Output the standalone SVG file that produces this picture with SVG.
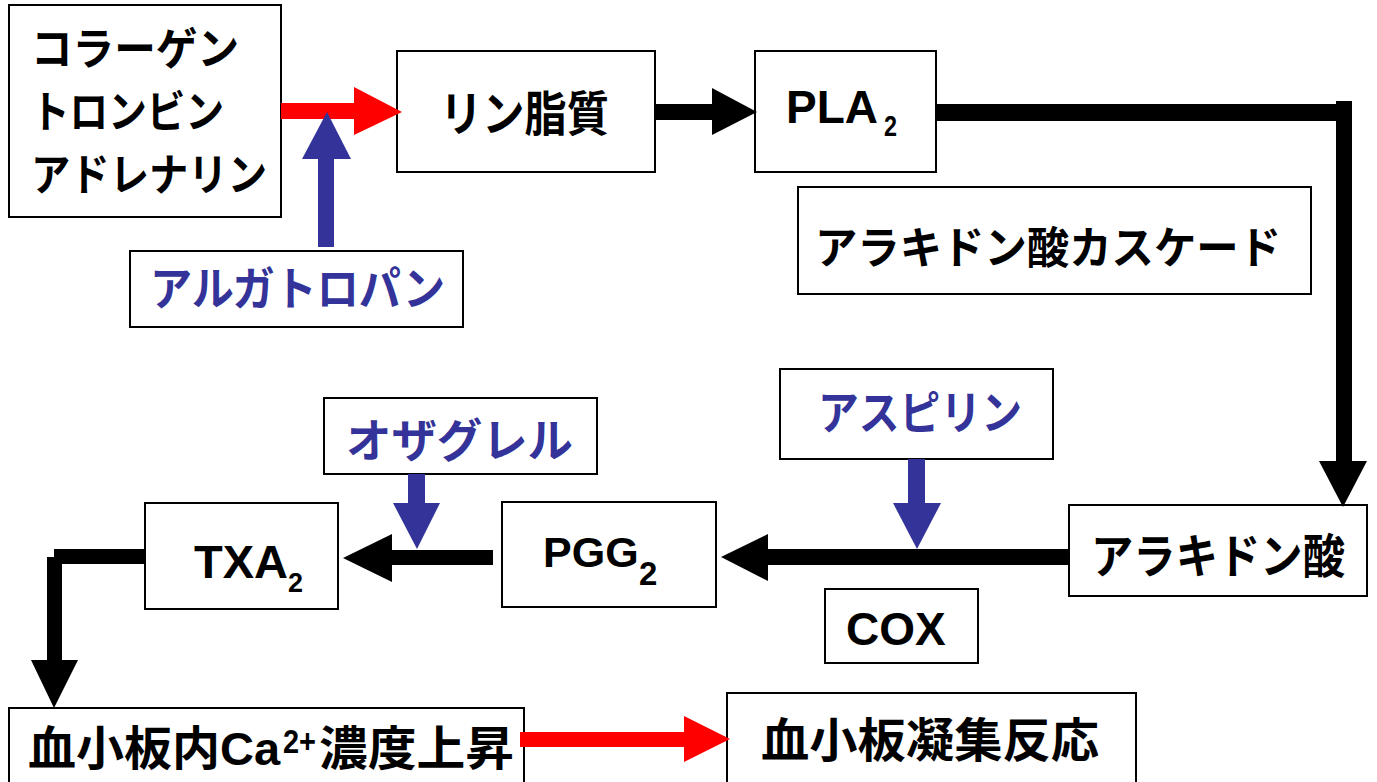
<svg xmlns="http://www.w3.org/2000/svg" width="1377" height="782" viewBox="0 0 1377 782">
<style>
.box{fill:#fff;stroke:#000;stroke-width:2}
.jp{font-family:"Noto Sans CJK JP","Liberation Sans",sans-serif;font-weight:bold;fill:#000}
.bl{fill:#333399}
.en{font-family:"Liberation Sans",Arial,sans-serif;font-weight:bold;fill:#000}
.k{fill:#000}
.r{fill:#ff0000}
.b{fill:#333399}
</style>
<rect width="1377" height="782" fill="#fff"/>
<g id="collagen">
<rect class="box" x="9" y="5" width="272" height="212"/>
<text class="jp" x="31" y="65" font-size="44" textLength="208" lengthAdjust="spacingAndGlyphs">コラーゲン</text>
<text class="jp" x="31" y="128" font-size="44" textLength="193" lengthAdjust="spacingAndGlyphs">トロンビン</text>
<text class="jp" x="31" y="191" font-size="44" textLength="236" lengthAdjust="spacingAndGlyphs">アドレナリン</text>
</g>
<g id="argatroban">
<rect class="box" x="130" y="251" width="333" height="76"/>
<text class="jp bl" x="150" y="305" font-size="46" textLength="295" lengthAdjust="spacingAndGlyphs">アルガトロパン</text>
</g>
<g id="phospholipid">
<rect class="box" x="397" y="51" width="258" height="121"/>
<text class="jp" x="440" y="131" font-size="48" textLength="169" lengthAdjust="spacingAndGlyphs">リン脂質</text>
</g>
<g id="pla2">
<rect class="box" x="755" y="51" width="181" height="121"/>
<text class="en" x="786" y="123" font-size="46">PLA</text>
<text class="en" x="884" y="136" font-size="29" textLength="13" lengthAdjust="spacingAndGlyphs">2</text>
</g>
<g id="cascade">
<rect class="box" x="798" y="187" width="513" height="107"/>
<text class="jp" x="815" y="264" font-size="44" textLength="466" lengthAdjust="spacingAndGlyphs">アラキドン酸カスケード</text>
</g>
<g id="aspirin">
<rect class="box" x="780" y="369" width="273" height="90"/>
<text class="jp bl" x="818" y="429" font-size="46" textLength="204" lengthAdjust="spacingAndGlyphs">アスピリン</text>
</g>
<g id="arachidonic">
<rect class="box" x="1069" y="505" width="298" height="91"/>
<text class="jp" x="1091" y="573" font-size="47" textLength="254" lengthAdjust="spacingAndGlyphs">アラキドン酸</text>
</g>
<g id="cox">
<rect class="box" x="825" y="589" width="153" height="74"/>
<text class="en" x="846" y="645" font-size="46">COX</text>
</g>
<g id="pgg2">
<rect class="box" x="502" y="502" width="214" height="105"/>
<text class="en" x="543" y="567" font-size="43">PGG</text>
<text class="en" x="639" y="585" font-size="33">2</text>
</g>
<g id="ozagrel">
<rect class="box" x="324" y="398" width="273" height="76"/>
<text class="jp bl" x="346" y="457" font-size="46" textLength="227" lengthAdjust="spacingAndGlyphs">オザグレル</text>
</g>
<g id="txa2">
<rect class="box" x="145" y="503" width="193" height="106"/>
<text class="en" x="194" y="578" font-size="47">TXA</text>
<text class="en" x="288" y="592" font-size="27">2</text>
</g>
<g id="calcium">
<rect class="box" x="9" y="708" width="515" height="90"/>
<text class="jp" x="28" y="765" font-size="47" textLength="192" lengthAdjust="spacingAndGlyphs">血小板内</text>
<text class="en" x="220" y="765" font-size="47">Ca</text>
<text class="en" x="283" y="753" font-size="34" textLength="33" lengthAdjust="spacingAndGlyphs">2+</text>
<text class="jp" x="319" y="765" font-size="47" textLength="195" lengthAdjust="spacingAndGlyphs">濃度上昇</text>
</g>
<g id="aggregation">
<rect class="box" x="727" y="693" width="409" height="100"/>
<text class="jp" x="761" y="757" font-size="47" textLength="338" lengthAdjust="spacingAndGlyphs">血小板凝集反応</text>
</g>
<g id="connectors">
<rect class="r" x="281" y="103" width="75" height="16"/>
<polygon class="r" points="354,87 402,112 354,135"/>
<rect class="b" x="318" y="158" width="16" height="89"/>
<polygon class="b" points="302,159 351,159 327,112"/>
<rect class="k" x="655" y="104" width="59" height="16"/>
<polygon class="k" points="712,88 757,112 712,135"/>
<rect class="k" x="936" y="104" width="416" height="17"/>
<rect class="k" x="1336" y="101" width="16" height="362"/>
<polygon class="k" points="1319,461 1367,461 1343,507"/>
<rect class="b" x="908" y="459" width="17" height="46"/>
<polygon class="b" points="893,503 941,503 917,549"/>
<rect class="k" x="766" y="549" width="303" height="16"/>
<polygon class="k" points="768,534 768,581 721,557"/>
<rect class="k" x="390" y="550" width="103" height="15"/>
<polygon class="k" points="392,534 392,582 343,558"/>
<rect class="b" x="408" y="474" width="17" height="31"/>
<polygon class="b" points="393,503 440,503 417,549"/>
<rect class="k" x="54" y="549" width="91" height="15"/>
<rect class="k" x="47" y="557" width="15" height="105"/>
<polygon class="k" points="31,660 78,660 54,708"/>
<rect class="r" x="520" y="732" width="166" height="15"/>
<polygon class="r" points="684,716 730,739 684,762"/>
</g>
</svg>
